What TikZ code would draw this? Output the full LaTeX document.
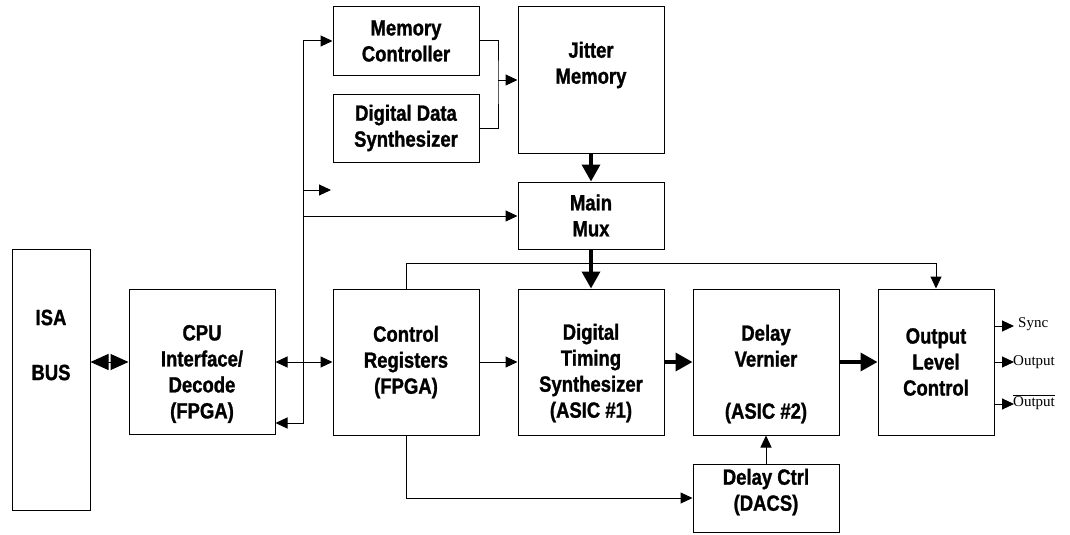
\documentclass[tikz,border=0pt]{standalone}
\usepackage{fontspec}
\setmainfont{Liberation Serif}
\newfontfamily\blk{Liberation Sans}[FakeStretch=0.84,FakeBold=1.2]
\usetikzlibrary{arrows.meta}
\begin{document}
\begin{tikzpicture}[x=1pt,y=-1pt,
  box/.style={draw,line width=1pt,minimum width=146pt,inner sep=0pt,align=center,
    font={\blk\bfseries\fontsize{22}{26}\selectfont}},
  txt/.style={inner sep=0pt,align=center,font={\blk\bfseries\fontsize{22}{26}\selectfont}},
  thin/.style={line width=1pt,-{Triangle[length=12pt,width=11pt]}},
  thick/.style={line width=3.5pt,-{Triangle[length=17pt,width=18pt]}},
  outl/.style={font={\fontsize{15}{17}\selectfont},inner sep=1pt,anchor=west}]
\useasboundingbox (0,0) rectangle (1070,535);
% boxes
\node[box,minimum width=78pt,minimum height=261pt] (isa) at (51,379.5) {};
\node[txt] (isaT) at (51,345) {ISA\\[29pt]BUS};
\node[box,minimum height=145pt] (cpu) at (202,361.5) {};
\node[txt] (cpuT) at (202,374) {CPU\\Interface/\\Decode\\(FPGA)};
\node[box,minimum height=68pt] (mc) at (406,41) {Memory\\Controller};
\node[box,minimum height=68pt] (dds) at (406,128) {Digital Data\\Synthesizer};
\node[box,minimum height=146pt] (jm) at (591,80) {};
\node[txt] (jmT) at (591,65) {Jitter\\Memory};
\node[box,minimum height=67pt] (mux) at (591,215.5) {Main\\Mux};
\node[box,minimum height=146pt] (cr) at (406,362) {Control\\Registers\\(FPGA)};
\node[box,minimum height=146pt] (dts) at (591,362) {};
\node[txt] (dtsT) at (591,373) {Digital\\Timing\\Synthesizer\\(ASIC \#1)};
\node[box,minimum height=146pt] (dv) at (766,362) {};
\node[txt] (dvT) at (766,374) {Delay\\Vernier\\[26pt](ASIC \#2)};
\node[box,minimum width=116pt,minimum height=146pt] (olc) at (936,362) {Output\\Level\\Control};
\node[box,minimum height=68pt] (dc) at (766,498) {};
\node[txt] (dcT) at (766,492) {Delay Ctrl\\(DACS)};
% bus
\coordinate (busT) at (303,41);
\coordinate (busB) at (303,423);
\coordinate (busM) at (303,190);
\coordinate (busE) at (331,190);
\coordinate (busX) at (303,216);
\draw[line width=1pt,{Triangle[length=18pt,width=16pt]}-{Triangle[length=18pt,width=16pt]}] (isa.east |- 0,362) -- (cpu.west |- 0,362);
\draw[line width=1pt,{Triangle[length=12pt,width=11pt]}-{Triangle[length=12pt,width=11pt]}] (cpu.east |- 0,362) -- (cr.west |- 0,362);
\draw[thin] (busT) -- (busB) -- (cpu.east |- busB);
\draw[thin] (busT) -- (mc.west |- busT);
\draw[thin] (busM) -- (busE);
\draw[thin] (busX) -- (mux.west |- busX);
% memory merge
\coordinate (mj) at (498,80);
\draw[line width=1pt] (mc.east) -| (mj) |- (dds.east);
\draw[thin] (mj) -- (jm.west |- mj);
% thick flow
\draw[thick] (jm.south) -- (mux.north);
\draw[thick] (mux.south) -- (dts.north);
\draw[thick] (dts.east) -- (dv.west);
\draw[thick] (dv.east) -- (olc.west);
% control lines
\draw[thin] (cr.north) |- (936,263) -- (olc.north);
\draw[thin] (cr.east) -- (dts.west);
\draw[thin] (cr.south) |- (dc.west);
\draw[thin] (dc.north) -- (dv.south);
% outputs
\coordinate (o1) at (1014,326);
\coordinate (o2) at (1014,362);
\coordinate (o3) at (1014,404);
\draw[thin] (olc.east |- o1) -- (o1);
\draw[thin] (olc.east |- o2) -- (o2);
\draw[thin] (olc.east |- o3) -- (o3);
\node[outl] (s1) at (1017,324) {Sync};
\node[outl] (s2) at (1012,362) {Output};
\node[outl] (s3) at (1012,402) {$\overline{\mbox{Output}}$};
\end{tikzpicture}
\end{document}
